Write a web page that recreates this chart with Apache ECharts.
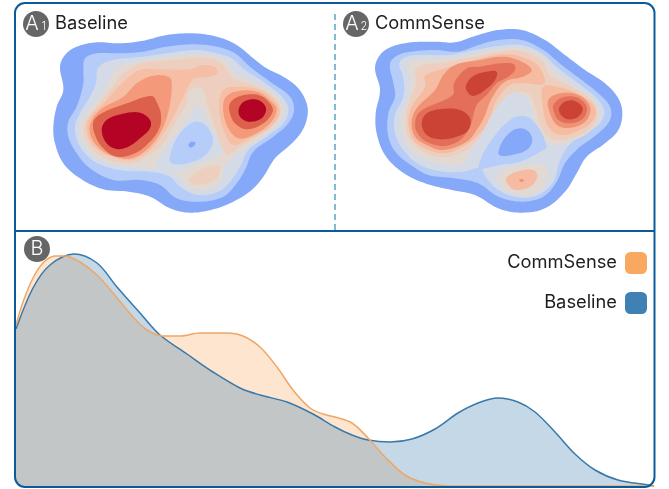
<!DOCTYPE html>
<html><head><meta charset="utf-8">
<script src="https://cdn.jsdelivr.net/npm/echarts@6/dist/echarts.min.js"></script>
<style>html,body{margin:0;padding:0;background:#fff}#c{width:669px;height:489px}</style>
</head><body><div id="c"></div>
<script>
// ---- KDE curves (x offset, density height) ----
const baselineCurve=[[0,157],[17,198],[34,221],[58,232],[81,223],[101,199],[124,173],[144,151],[171,132],[197,114],[224,98],[244,91],[271,84],[297,72],[319,59],[336,51],[352,46],[374,44],[396,47],[419,57],[442,73],[462,83],[482,88],[502,84],[519,74],[539,54],[559,32],[579,16],[602,6],[632,1],[638,0]];
const commsenseCurve=[[0,161],[7,184],[17,208],[27,223],[39,230],[49,230],[64,224],[81,211],[97,193],[117,169],[131,156],[147,150],[164,150],[184,153],[211,153],[227,150],[244,139],[261,119],[277,96],[294,78],[307,72],[319,69],[336,63],[352,48],[369,29],[389,11],[409,3],[432,0],[638,0]];
const seriesNames=['CommSense','Baseline'];

// ---- density contour rings, panel A1 ----
const A1_L0=[[180,200],[195,165],[230,140],[290,127],[360,130],[430,122],[500,105],[580,100],[650,110],[710,135],[760,175],[800,205],[850,230],[895,265],[920,310],[922,350],[905,395],[870,435],[825,475],[790,530],[755,570],[700,605],[640,628],[570,638],[510,625],[450,590],[385,575],[310,568],[240,535],[190,490],[165,430],[160,380],[170,320],[190,270]];
const A1_L1=[[250,210],[255,175],[290,160],[360,160],[430,155],[500,140],[580,133],[650,140],[705,160],[750,200],[810,245],[870,290],[882,330],[865,370],[820,410],[760,455],[735,510],[710,550],[670,590],[600,605],[530,595],[480,555],[420,540],[340,540],[270,505],[230,460],[205,410],[205,365],[230,320],[250,250]];
const A1_L2=[[295,202],[340,180],[430,170],[500,160],[590,150],[650,160],[695,175],[735,210],[790,245],[850,295],[865,330],[850,370],[800,410],[745,450],[720,500],[690,545],[655,575],[595,585],[540,560],[510,530],[450,515],[370,512],[310,497],[270,475],[235,430],[225,380],[240,340],[270,290],[288,250]];
const A1_L3=[[350,205],[420,185],[520,170],[610,165],[670,180],[705,220],[770,250],[825,285],[852,325],[830,375],[780,415],[720,455],[675,495],[665,535],[630,565],[570,565],[540,530],[510,510],[450,505],[390,500],[330,490],[280,465],[250,430],[240,380],[265,335],[305,285],[325,250]];
const A1_N3=[[595,318],[625,365],[658,420],[665,455],[630,480],[580,495],[540,515],[510,510],[480,510],[470,490],[495,445],[530,400],[565,355]];
const A1_L4=[[420,190],[480,183],[540,178],[610,172],[665,190],[700,235],[760,255],[815,285],[842,325],[820,375],[770,410],[715,445],[680,465],[658,420],[640,370],[620,310],[605,265],[570,270],[560,310],[530,360],[490,430],[440,470],[395,490],[330,482],[290,460],[260,420],[252,375],[290,320],[330,270],[370,220]];
const A1_B4=[[570,535],[610,505],[658,497],[650,535],[600,555],[575,550]];
const A1_L5=[[420,210],[480,208],[570,208],[610,195],[645,202],[652,218],[630,230],[585,235],[570,250],[550,290],[520,350],[490,400],[450,450],[395,480],[340,472],[295,450],[265,410],[265,360],[320,300],[370,245]];
const A1_R5=[[658,305],[670,270],[710,260],[780,270],[830,310],[838,345],[805,385],[750,415],[700,435],[675,400],[660,350]];
const A1_L6=[[515,245],[505,230],[460,227],[410,250],[370,290],[300,330],[270,375],[275,415],[305,450],[340,468],[395,475],[450,440],[490,380],[510,310]];
const A1_R6=[[675,295],[705,275],[770,275],[815,305],[830,330],[810,370],[760,405],[715,415],[685,385],[670,335]];
const A1_L7=[[455,288],[472,310],[483,345],[478,385],[450,425],[405,460],[350,470],[310,445],[285,405],[280,365],[305,340],[380,310]];
const A1_R7=[[690,310],[720,288],[775,285],[810,310],[818,335],[790,370],[740,388],[705,370],[690,340]];
const A1_L8=[[305,390],[320,360],[365,342],[420,338],[450,360],[450,385],[420,415],[385,440],[350,447],[320,430]];
const A1_R8=[[717,325],[735,303],[775,300],[798,325],[785,355],[745,365],[720,350]];
const A1_H1=[[508,480],[530,415],[565,375],[595,365],[625,385],[638,430],[610,470],[560,490],[520,492]];
const A1_H0=[[565,435],[575,425],[586,428],[583,437],[572,443]];

// ---- density contour rings, panel A2 ----
const A2_L0=[[120,205],[135,165],[170,140],[230,127],[300,125],[360,127],[420,108],[490,90],[560,90],[630,120],[690,165],[750,210],[810,250],[850,295],[862,340],[850,390],[810,430],[755,470],[725,520],[690,575],[630,625],[555,638],[490,625],[420,585],[350,570],[270,550],[200,515],[150,465],[125,400],[122,340],[135,270]];
const A2_L1=[[165,190],[190,165],[230,155],[300,150],[370,155],[430,135],[490,120],[560,120],[625,150],[680,195],[740,240],[790,280],[825,320],[825,360],[790,400],[730,445],[690,490],[665,545],[625,590],[560,605],[490,590],[430,550],[360,535],[280,525],[235,500],[185,460],[160,410],[160,340],[180,290],[175,250]];
const A2_L2=[[193,190],[215,170],[260,165],[340,165],[420,150],[490,138],[560,135],[620,160],[670,205],[730,250],[785,295],[808,335],[790,375],[730,410],[695,445],[672,490],[655,545],[610,585],[550,592],[490,570],[455,535],[435,505],[385,515],[325,515],[255,495],[205,450],[180,400],[180,345],[205,290],[205,235]];
const A2_L3=[[220,190],[280,178],[350,175],[420,162],[495,148],[560,145],[625,170],[660,215],[720,260],[775,300],[795,340],[775,385],[720,420],[655,435],[610,400],[590,330],[575,295],[545,280],[510,285],[470,330],[435,385],[420,430],[395,475],[375,495],[325,492],[265,475],[220,440],[200,390],[200,345],[225,280],[225,230]];
const A2_L4=[[243,205],[340,185],[420,170],[495,155],[555,152],[620,180],[645,225],[700,255],[760,290],[787,330],[775,375],[725,410],[660,420],[620,385],[600,320],[585,285],[550,275],[520,285],[480,330],[450,385],[420,430],[385,455],[325,472],[265,455],[220,410],[213,360],[220,310],[243,250]];
const A2_L5=[[270,228],[330,205],[420,180],[500,163],[560,170],[610,198],[628,250],[565,250],[525,255],[485,300],[465,350],[435,400],[380,442],[325,460],[270,445],[235,420],[220,370],[230,320],[270,260]];
const A2_R5=[[625,260],[685,265],[745,290],[780,325],[775,360],[735,390],[675,405],[640,380],[625,330]];
const A2_L6=[[360,195],[435,180],[505,170],[560,185],[590,210],[565,230],[510,245],[470,295],[448,350],[425,390],[395,425],[325,450],[275,435],[240,410],[230,365],[245,325],[300,270],[325,225]];
const A2_R6=[[640,300],[675,280],[730,285],[765,320],[755,360],[715,382],[670,378],[647,345]];
const A2_L7=[[255,335],[240,375],[255,410],[285,430],[330,438],[375,420],[405,380],[425,315],[455,285],[485,250],[520,230],[540,210],[535,192],[495,190],[435,200],[395,205],[357,250],[353,285]];
const A2_R7=[[655,315],[680,293],[725,292],[755,320],[745,355],[705,370],[670,360],[657,335]];
const A2_T8=[[393,255],[415,228],[455,215],[485,215],[480,240],[450,270],[415,288],[397,275]];
const A2_L8=[[260,370],[275,340],[320,327],[375,330],[405,355],[400,390],[365,410],[315,418],[275,405]];
const A2_R8=[[672,325],[690,305],[720,303],[743,325],[730,350],[700,358],[678,345]];
const A2_H1=[[430,510],[450,505],[495,495],[555,485],[625,450],[635,440],[615,390],[585,355],[555,348],[525,360],[485,400],[445,460]];
const A2_H0=[[490,460],[505,420],[540,388],[575,390],[592,420],[575,450],[530,465],[500,468]];
const A2_B3=[[487,525],[530,502],[620,492],[638,508],[630,550],[600,580],[550,585],[505,565]];
const A2_B5=[[513,535],[545,515],[595,510],[607,530],[585,560],[540,570],[520,555]];
const A2_D6=[[552,541],[560,537],[567,541],[560,546]];

const palette=['#85a8f8','#b5cdf8','#d4dbe6','#e3d9d3','#eecfbf','#f6bea4','#f49a7b','#dd604c','#b40426'];
const palette2=['#85a8f8','#b5cdf8','#d4dbe6','#e3d9d3','#eecfbf','#f6bca1','#ef9275','#e46f58','#cb4335'];

const A1_rings=[[0,A1_L0],[1,A1_L1],[2,A1_L2],[3,A1_L3],[2,A1_N3],[4,A1_L4],[4,A1_B4],[5,A1_L5],[5,A1_R5],[6,A1_L6],[6,A1_R6],[7,A1_L7],[7,A1_R7],[8,A1_L8],[8,A1_R8],[1,A1_H1],[0,A1_H0]];
const A2_rings=[[0,A2_L0],[1,A2_L1],[2,A2_L2],[3,A2_L3],[4,A2_L4],[5,A2_L5],[5,A2_R5],[6,A2_L6],[6,A2_R6],[7,A2_L7],[7,A2_R7],[8,A2_T8],[8,A2_L8],[8,A2_R8],[1,A2_H1],[0,A2_H0],[3,A2_B3],[5,A2_B5],[6,A2_D6]];

// closed, chord-weighted cubic outline through the projected ring points (pure rendering step)
function roundOutline(pts){
  const n=pts.length,out=[],steps=10,T=0.36;
  const len=(p,q)=>Math.hypot(p[0]-q[0],p[1]-q[1])||1;
  for(let i=0;i<n;i++){
    const a=pts[(i-1+n)%n],b=pts[i],c=pts[(i+1)%n],d=pts[(i+2)%n];
    const ab=len(a,b),bc=len(b,c),cd=len(c,d);
    const k1=T*bc/(ab+bc),k2=T*bc/(bc+cd);
    const c1=[b[0]+(c[0]-a[0])*k1,b[1]+(c[1]-a[1])*k1];
    const c2=[c[0]-(d[0]-b[0])*k2,c[1]-(d[1]-b[1])*k2];
    for(let s=0;s<steps;s++){
      const t=s/steps,u=1-t;
      const f=k=>u*u*u*b[k]+3*u*u*t*c1[k]+3*u*t*t*c2[k]+t*t*t*c[k];
      out.push([f(0),f(1)]);
    }
  }
  return out;
}
function contourSeries(rings,pal,idx){
  return {type:'custom',xAxisIndex:idx,yAxisIndex:idx,silent:true,clip:false,animation:false,z:2,
    encode:{x:0,y:1},
    data:rings.map((r,i)=>[r[1][0][0],r[1][0][1],i]),
    renderItem:(p,api)=>{
      const r=rings[api.value(2)];
      return {type:'polygon',shape:{points:roundOutline(r[1].map(q=>api.coord(q)))},style:{fill:pal[r[0]],stroke:null}};
    }};
}
const font='Inter, "Noto Sans", sans-serif';
const ink='#1d1d1d';
function badge(cx,cy,main,sub,subdx){
  const els=[{type:'circle',shape:{cx,cy,r:13},style:{fill:'#666666'},z:20},
    {type:'text',x:cx+(sub?-4:0),y:cy,style:{text:main,fill:'#fff',font:'300 20px '+font,align:'center',verticalAlign:'middle'},z:21}];
  if(sub)els.push({type:'text',x:cx+subdx,y:cy+3,style:{text:sub,fill:'#fff',font:'300 11px '+font,align:'center',verticalAlign:'middle'},z:21});
  return els;
}
const chart=echarts.init(document.getElementById('c'),null,{renderer:'canvas'});
const hidden=(o)=>Object.assign({type:'value',show:false,splitLine:{show:false}},o);
chart.setOption({
  animation:false,backgroundColor:'#fff',
  grid:[{left:0,top:0,width:335,height:235},{left:335,top:0,width:334,height:235},{left:16,top:231,width:638,height:255}],
  xAxis:[hidden({gridIndex:0,min:0,max:1005}),hidden({gridIndex:1,min:0,max:1002}),hidden({gridIndex:2,min:0,max:638})],
  yAxis:[hidden({gridIndex:0,min:0,max:705,inverse:true}),hidden({gridIndex:1,min:0,max:705,inverse:true}),hidden({gridIndex:2,min:0,max:255})],
  legend:{show:true,orient:'vertical',right:17,top:247,align:'right',icon:'roundRect',itemWidth:22,itemHeight:22,itemGap:18,
    data:seriesNames,selectedMode:false,textStyle:{fontFamily:font,fontSize:18.3,color:ink,padding:[0,3,0,0]}},
  series:[
    contourSeries(A1_rings,palette,0),
    contourSeries(A2_rings,palette2,1),
    {name:'CommSense',type:'line',xAxisIndex:2,yAxisIndex:2,data:commsenseCurve,smooth:0.33,showSymbol:false,z:3,
      lineStyle:{width:0},itemStyle:{color:'#f9a95f'},areaStyle:{color:'#f9a95f',opacity:0.3}},
    {name:'Baseline',type:'line',xAxisIndex:2,yAxisIndex:2,data:baselineCurve,smooth:0.33,showSymbol:false,z:4,
      lineStyle:{color:'#3a78a8',width:1.5},itemStyle:{color:'#3f81b5'},areaStyle:{color:'#3f81b5',opacity:0.31}},
    {name:'CommSense',type:'line',xAxisIndex:2,yAxisIndex:2,data:commsenseCurve,smooth:0.33,showSymbol:false,z:5,
      lineStyle:{color:'#efa765',width:1.5},itemStyle:{color:'#f9a95f'}}
  ],
  graphic:{elements:[
    {type:'line',shape:{x1:335,y1:14,x2:335,y2:230},style:{stroke:'#5ba3c9',lineWidth:1.5,lineDash:[6,4]},z:10},
    {type:'line',shape:{x1:15,y1:231,x2:654,y2:231},style:{stroke:'#0a5a9c',lineWidth:2},z:11},
    {type:'polygon',shape:{points:[[15,476],[16,481],[19,484],[25,487],[15,487]]},style:{fill:'#fff'},z:10},
    {type:'rect',shape:{x:15,y:3,width:639.5,height:484,r:10},style:{fill:'none',stroke:'#0a5a9c',lineWidth:2},z:11},
    ...badge(36,24,'A','1',8),
    ...badge(356,24,'A','2',8),
    ...badge(37,249,'B',null,0),
    {type:'text',x:55,y:24,style:{text:'Baseline',fill:ink,font:'400 18.3px '+font,verticalAlign:'middle'},z:20},
    {type:'text',x:375,y:24,style:{text:'CommSense',fill:ink,font:'400 18.3px '+font,verticalAlign:'middle'},z:20}
  ]}
});
</script></body></html>
